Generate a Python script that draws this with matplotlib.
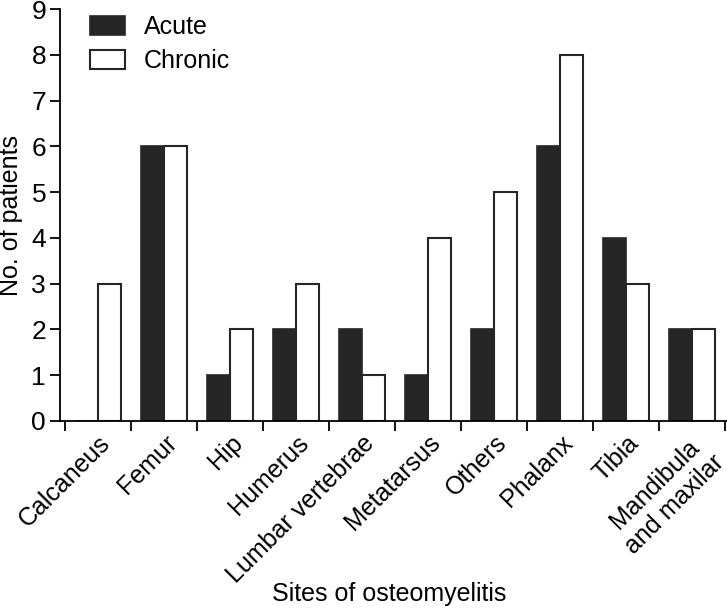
import numpy as np
import matplotlib.pyplot as plt
from matplotlib.ticker import FixedLocator

plt.rcParams['font.family'] = ['Liberation Sans', 'DejaVu Sans']

sites = ['Calcaneus', 'Femur', 'Hip', 'Humerus', 'Lumbar vertebrae', 'Metatarsus',
         'Others', 'Phalanx', 'Tibia', 'Mandibula\nand maxilar']
acute = [0, 6, 1, 2, 2, 1, 2, 6, 4, 2]
chronic = [3, 6, 2, 3, 1, 4, 5, 8, 3, 2]

fig = plt.figure(figsize=(7.27, 6.11), dpi=100)
ax = fig.add_axes([0.0825, 0.311, 0.917, 0.674])

x = np.arange(len(sites))
w = 0.35
ax.bar(x - w/2, acute, w, color='#262626', edgecolor='#262626', linewidth=1.2, label='Acute')
ax.bar(x + w/2, chronic, w, color='white', edgecolor='#262626', linewidth=1.5, label='Chronic')

ax.set_ylim(0, 9)
ax.set_xlim(-0.58, 9.52)
ax.set_yticks(range(10))
ax.xaxis.set_major_locator(FixedLocator(np.arange(-0.5, 10, 1)))
ax.set_xticklabels([])
ax.set_xticks(x, minor=True)
ax.set_xticklabels(sites, minor=True, rotation=45, ha='right', rotation_mode='anchor',
                   fontsize=18, multialignment='center')
ax.tick_params(axis='x', which='minor', length=0, pad=7)
ax.tick_params(axis='x', which='major', length=7, width=1.3, direction='out')
ax.tick_params(axis='y', length=7, width=1.3, labelsize=19, pad=3)

for s in ['top', 'right']:
    ax.spines[s].set_visible(False)
for s in ['left', 'bottom']:
    ax.spines[s].set_linewidth(1.3)

ax.set_ylabel('No. of patients', fontsize=18, labelpad=6)
ax.set_xlabel('Sites of osteomyelitis', fontsize=18)
ax.xaxis.set_label_coords(0.536, 0.047, transform=fig.transFigure)

ax.legend(loc='upper left', bbox_to_anchor=(0.012, 1.04), frameon=False, fontsize=18,
          handlelength=1.4, handleheight=0.75, handletextpad=0.75, labelspacing=0.4)

fig.savefig('out.png', dpi=100)
